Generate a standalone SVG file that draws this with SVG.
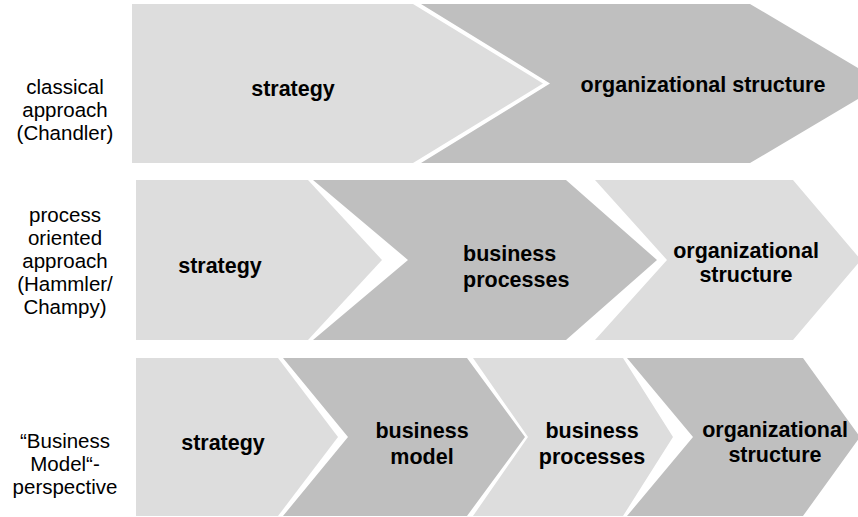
<svg xmlns="http://www.w3.org/2000/svg" width="858" height="517" viewBox="0 0 858 517">
<style>
.light{fill:#DDDDDD}
.dark{fill:#BFBFBF}
.lbl{font-family:"Liberation Sans",Arial,sans-serif;font-size:21.5px;font-weight:bold;fill:#000}
.side{font-family:"Liberation Sans",Arial,sans-serif;font-size:20.5px;fill:#000;text-anchor:middle}
.c{text-anchor:middle}
</style>
<rect width="858" height="517" fill="#FFFFFF"/>
<g id="row-labels">
<text class="side"><tspan x="65" y="94">classical</tspan><tspan x="65" y="117">approach</tspan><tspan x="65" y="140">(Chandler)</tspan></text>
<text class="side"><tspan x="65" y="222">process</tspan><tspan x="65" y="245">oriented</tspan><tspan x="65" y="268">approach</tspan><tspan x="65" y="291">(Hammler/</tspan><tspan x="65" y="314">Champy)</tspan></text>
<text class="side"><tspan x="65" y="448">“Business</tspan><tspan x="65" y="471">Model“-</tspan><tspan x="65" y="494">perspective</tspan></text>
</g>
<g id="r1-org">
<polygon class="dark" points="421,4 750,4 884,83.5 750,163 421,163 550,83.5"/>
<text class="lbl c" x="703" y="92">organizational structure</text>
</g>
<g id="r1-strategy">
<polygon class="light" points="132,4 413,4 543,83.5 413,163 132,163"/>
<text class="lbl c" x="293" y="96">strategy</text>
</g>
<g id="r2-strategy">
<polygon class="light" points="136,180 308,180 382,260 308,340 136,340"/>
<text class="lbl c" x="220" y="273">strategy</text>
</g>
<g id="r2-processes">
<polygon class="dark" points="313,180 566,180 657,260 566,340 313,340 408,260"/>
<text class="lbl"><tspan x="463" y="261">business</tspan><tspan x="463" y="287">processes</tspan></text>
</g>
<g id="r2-org">
<polygon class="light" points="595,180 793,180 861,260 793,340 595,340 667,260"/>
<text class="lbl c"><tspan x="746" y="258">organizational</tspan><tspan x="746" y="282">structure</tspan></text>
</g>
<g id="r3-strategy">
<polygon class="light" points="136,358 278,358 338,437 278,516 136,516"/>
<text class="lbl c" x="223" y="450">strategy</text>
</g>
<g id="r3-model">
<polygon class="dark" points="283,358 467,358 525,437 467,516 283,516 348,437"/>
<text class="lbl c"><tspan x="422" y="438">business</tspan><tspan x="422" y="464">model</tspan></text>
</g>
<g id="r3-processes">
<polygon class="light" points="473,358 623,358 673,437 623,516 473,516 528,437"/>
<text class="lbl c"><tspan x="592" y="438">business</tspan><tspan x="592" y="464">processes</tspan></text>
</g>
<g id="r3-org">
<polygon class="dark" points="627,358 803,358 860,437 803,516 627,516 693,437"/>
<text class="lbl c"><tspan x="775" y="437">organizational</tspan><tspan x="775" y="462">structure</tspan></text>
</g>
<g id="connectors"/>
</svg>
